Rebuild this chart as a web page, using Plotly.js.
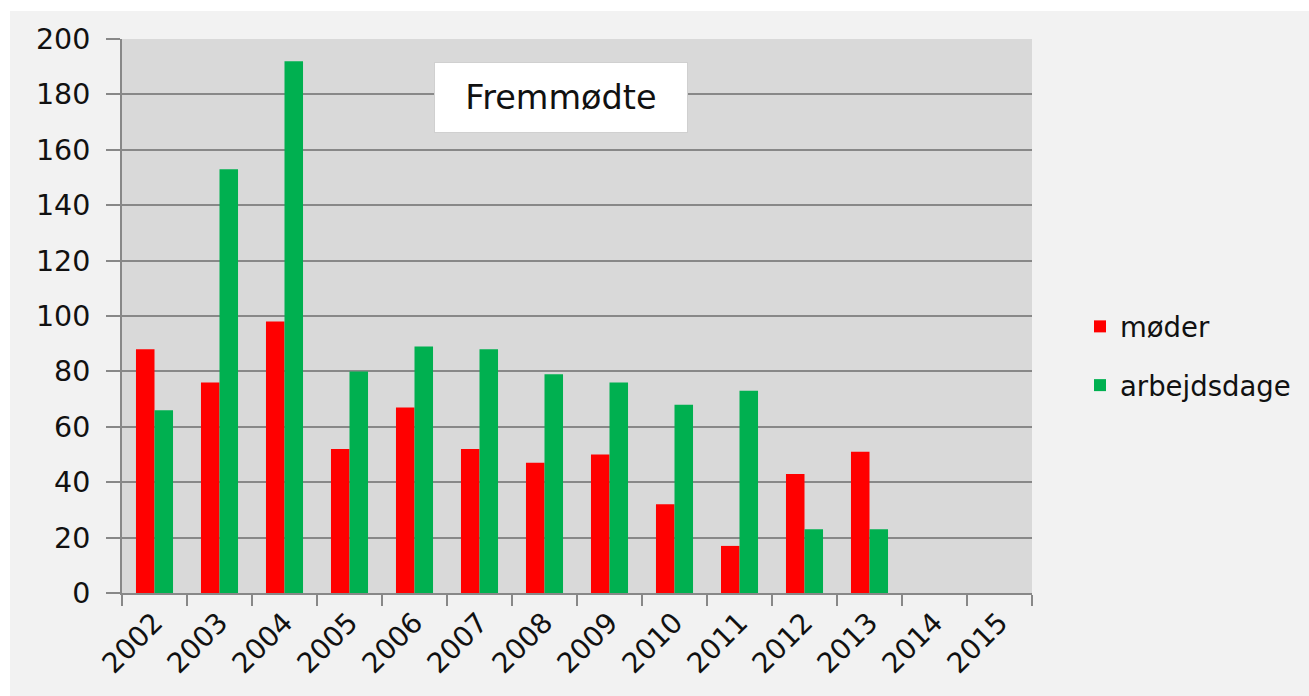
<!DOCTYPE html>
<html>
<head>
<meta charset="utf-8">
<script src="https://cdn.plot.ly/plotly-3.0.1.min.js"></script>
<style>html,body{margin:0;padding:0;background:#fff;overflow:hidden;}#chart{width:1309px;height:696px;}</style>
</head>
<body>
<div id="chart"></div>
<script>
const years = ["2002","2003","2004","2005","2006","2007","2008","2009","2010","2011","2012","2013","2014","2015"];
const moeder = [88, 76, 98, 52, 67, 52, 47, 50, 32, 17, 43, 51, null, null];
const arbejdsdage = [66, 153, 192, 80, 89, 88, 79, 76, 68, 73, 23, 23, null, null];
const seriesNames = ["møder", "arbejdsdage"];
const chartTitle = "Fremmødte";

const W = 1309, H = 696;
const mL = 122, mR = 277, mT = 39, mB = 103;
const pw = W - mL - mR, ph = H - mT - mB;
const px2x = p => (p - mL) / pw;
const py2y = p => (H - mB - p) / ph;

const font = "'DejaVu Sans', sans-serif";
const txt = "#111111";
const lineGray = "#888888";

const traces = [
  {type: "bar", name: seriesNames[0], x: years, y: moeder, marker: {color: "#ff0000"}, legendgroup: "a"},
  {type: "bar", name: seriesNames[1], x: years, y: arbejdsdage, marker: {color: "#00b050"}, legendgroup: "b"}
];

const layout = {
  width: W, height: H,
  margin: {l: mL, r: mR, t: mT, b: mB, pad: 0},
  paper_bgcolor: "#f2f2f2",
  plot_bgcolor: "#d9d9d9",
  barmode: "group",
  bargap: 0.43,
  bargroupgap: 0,
  showlegend: true,
  font: {family: font, color: txt, size: 28},
  xaxis: {
    type: "category",
    tickangle: -45,
    ticks: "outside", tickson: "boundaries", ticklen: 11, tickcolor: lineGray, tickwidth: 2,
    showline: true, linecolor: lineGray, linewidth: 2,
    showgrid: false, zeroline: false,
    tickfont: {family: font, size: 28, color: txt},
    fixedrange: true
  },
  yaxis: {
    range: [0, 200], dtick: 20, tick0: 0,
    ticks: "outside", ticklen: 14, tickcolor: lineGray, tickwidth: 2,
    showline: true, linecolor: lineGray, linewidth: 2,
    showgrid: true, gridcolor: lineGray, gridwidth: 2,
    zeroline: false,
    ticklabelstandoff: 10,
    tickfont: {family: font, size: 28.5, color: txt},
    fixedrange: true
  },
  legend: {
    x: px2x(1080), xanchor: "left",
    y: py2y(302), yanchor: "top",
    bgcolor: "rgba(0,0,0,0)",
    borderwidth: 0,
    font: {family: font, size: 27.5, color: txt},
    traceorder: "grouped",
    tracegroupgap: 20
  },
  annotations: [{
    xref: "paper", yref: "paper",
    x: px2x(561), y: py2y(97.5), xanchor: "center", yanchor: "middle",
    text: chartTitle, showarrow: false,
    font: {family: font, size: 33.5, color: txt},
    bgcolor: "#ffffff", bordercolor: "#d0d0d0", borderwidth: 1, borderpad: 1,
    width: 250, height: 67
  }],
  shapes: [
    {type: "rect", xref: "paper", yref: "paper", x0: px2x(0), x1: px2x(10), y0: py2y(H), y1: py2y(0), fillcolor: "#ffffff", line: {width: 0}},
    {type: "rect", xref: "paper", yref: "paper", x0: px2x(0), x1: px2x(W), y0: py2y(11), y1: py2y(0), fillcolor: "#ffffff", line: {width: 0}}
  ]
};

Plotly.newPlot("chart", traces, layout, {displayModeBar: false, staticPlot: true});
</script>
</body>
</html>
